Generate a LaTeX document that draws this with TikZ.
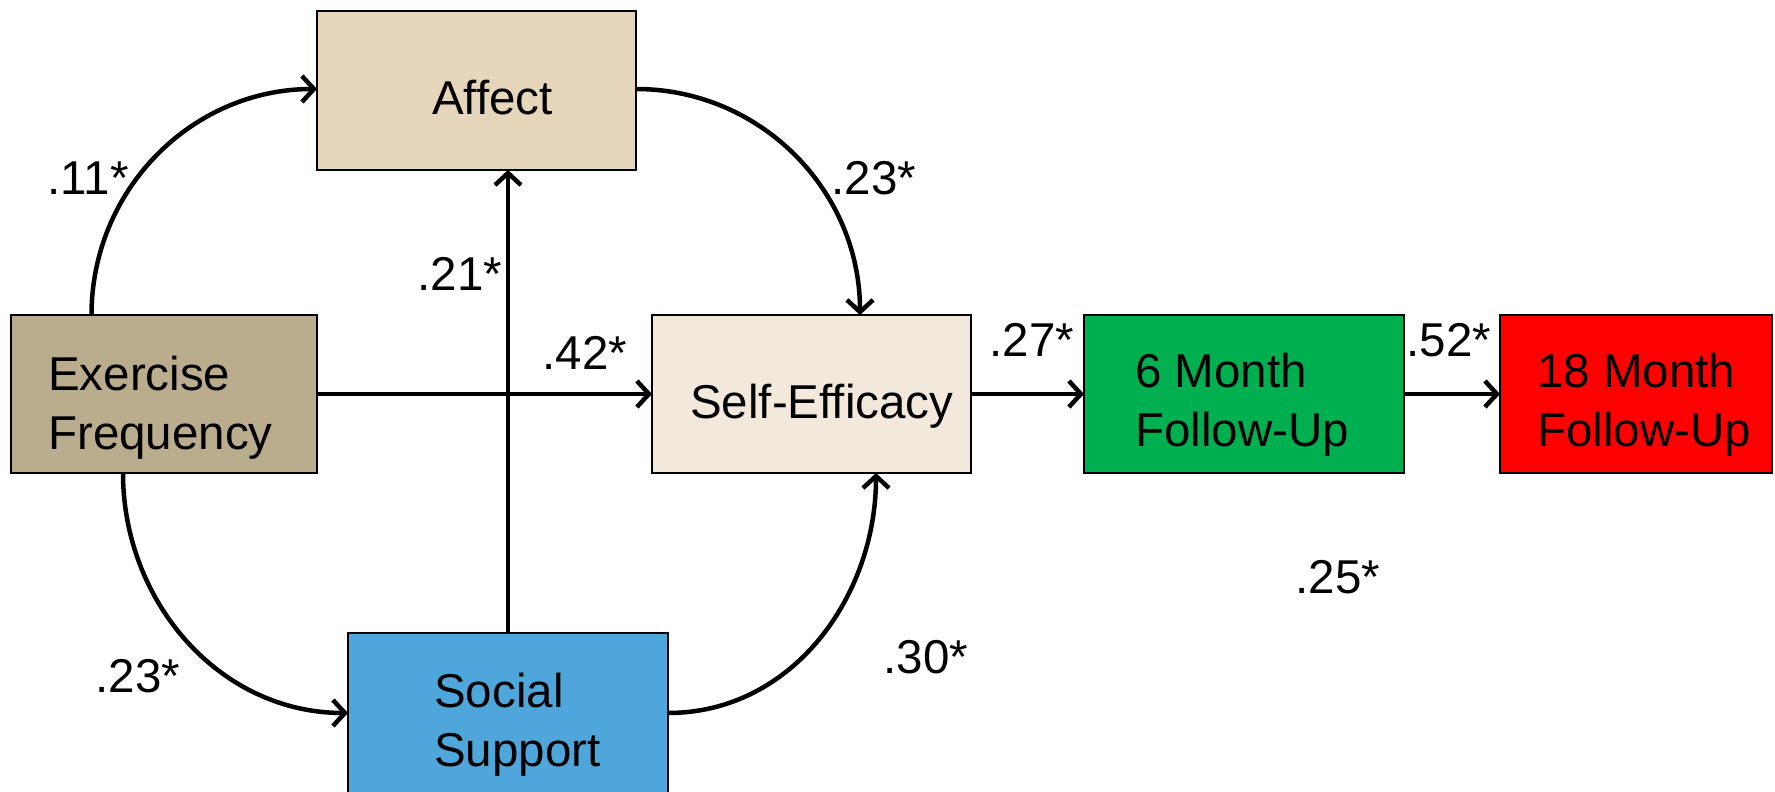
\documentclass[tikz,border=0pt]{standalone}
\usepackage{fontspec}
\setmainfont{Liberation Sans}
\usetikzlibrary{arrows.meta,calc}
\definecolor{affectc}{HTML}{E6D6BC}
\definecolor{exc}{HTML}{BAAD8D}
\definecolor{sec}{HTML}{F2E9DC}
\definecolor{socc}{HTML}{4FA6DA}
\definecolor{sixc}{HTML}{00AF50}
\definecolor{eighteenc}{HTML}{FF0000}
\begin{document}
\begin{tikzpicture}[x=1pt,y=1pt,
  box/.style={draw=black, line width=2.7pt, inner sep=0pt, outer sep=0pt},
  txt/.style={inner sep=0pt, align=left, font=\fontsize{47.5}{59}\selectfont},
  lbl/.style={inner sep=0pt, font=\fontsize{47.5}{56}\selectfont},
  conn/.style={line width=4.5pt, -{Straight Barb[length=12pt,width=26pt]}}]
\useasboundingbox (0,0) rectangle (1775,792);
% boxes
\node[box, fill=affectc, minimum width=319pt, minimum height=159pt] (aff) at (476.5,701.5) {};
\node[box, fill=exc, minimum width=306pt, minimum height=158pt] (ex) at (164,398) {};
\node[box, fill=sec, minimum width=319pt, minimum height=158pt] (se) at (811.5,398) {};
\node[box, fill=sixc, minimum width=320pt, minimum height=158pt] (six) at (1244,398) {};
\node[box, fill=eighteenc, minimum width=272pt, minimum height=158pt] (eight) at (1636,398) {};
\node[box, fill=socc, minimum width=320pt, minimum height=179pt] (soc) at (508,69.5) {};
% texts
\node[txt, anchor=base west] (taff) at (432,677) {Affect};
\node[txt, anchor=north west] (tex) at (48,436) {Exercise\\Frequency};
\node[txt, anchor=base west] (tse) at (690,373) {Self-Efficacy};
\node[txt, anchor=north west] (tsix) at (1135,439) {6 Month\\Follow-Up};
\node[txt, anchor=north west] (teight) at (1537,439) {18 Month\\Follow-Up};
\node[txt, anchor=north west] (tsoc) at (434,119) {Social\\Support};
% connector end points
\coordinate (exTop) at ($(ex.north west)+(80.5,0)$);
\coordinate (exBot) at ($(ex.south west)+(112,0)$);
\coordinate (affL) at ($(aff.north west)+(0,-78)$);
\coordinate (affR) at ($(aff.north east)+(0,-78)$);
\coordinate (seTop) at ($(se.north west)+(208,0)$);
\coordinate (seBot) at ($(se.south west)+(224,0)$);
\coordinate (socL) at ($(soc.north west)+(0,-80)$);
\coordinate (socR) at ($(soc.north east)+(0,-80)$);
% connectors
\draw[conn] (exTop) to[out=90,in=180] (affL);
\draw[conn] (affR) to[out=0,in=90] (seTop);
\draw[conn] (exBot) to[out=-90,in=180] (socL);
\draw[conn] (socR) to[out=0,in=-90] (seBot);
\draw[conn] (soc.north) -- (aff.south -| soc.north);
\draw[conn] (ex.east) -- (se.west);
\draw[conn] (se.east) -- (six.west);
\draw[conn] (six.east) -- (eight.west);
% labels
\node[lbl] (l11) at (88,614) {.11*};
\node[lbl] (l21) at (460,518) {.21*};
\node[lbl] (l42) at (585,439) {.42*};
\node[lbl] (l23a) at (874,614) {.23*};
\node[lbl] (l27) at (1032,452) {.27*};
\node[lbl] (l52) at (1449,452) {.52*};
\node[lbl] (l25) at (1338,215) {.25*};
\node[lbl] (l23b) at (138,116) {.23*};
\node[lbl] (l30) at (926,135) {.30*};
\end{tikzpicture}
\end{document}
